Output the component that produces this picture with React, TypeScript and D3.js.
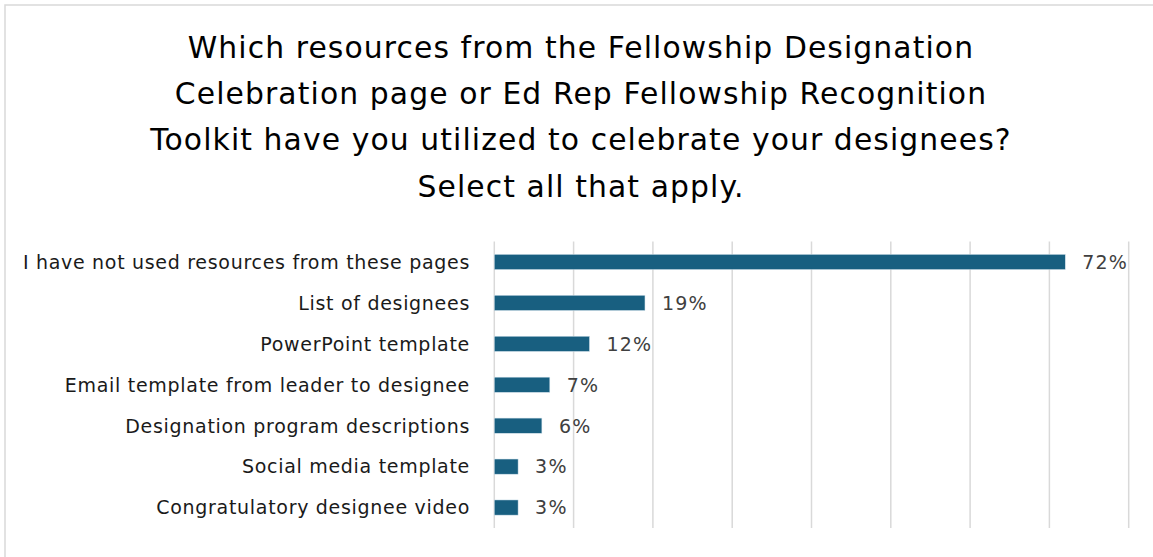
import React from "react";
import * as d3 from "d3";

const categories = [
  "I have not used resources from these pages",
  "List of designees",
  "PowerPoint template",
  "Email template from leader to designee",
  "Designation program descriptions",
  "Social media template",
  "Congratulatory designee video",
];
const values = [72, 19, 12, 7, 6, 3, 3];
const gridTicks = [0, 10, 20, 30, 40, 50, 60, 70, 80];
const titleLines = [
  "Which resources from the Fellowship Designation",
  "Celebration page or Ed Rep Fellowship Recognition",
  "Toolkit have you utilized to celebrate your designees?",
  "Select all that apply.",
];

const W = 1153;
const H = 557;
const FONT = "'DejaVu Sans', 'Noto Sans', sans-serif";

export default function App() {
  const x = d3.scaleLinear().domain([0, 80]).range([494.3, 1128.7]);
  const y = d3
    .scaleBand<string>()
    .domain(categories)
    .range([241.5, 528])
    .paddingInner(0.63)
    .paddingOuter(0.315);
  const bw = y.bandwidth();

  return (
    <div style={{ position: "absolute", left: 0, top: 0 }}>
      <svg width={W} height={H} style={{ display: "block" }}>
        <rect x={0} y={0} width={W} height={H} fill="#fff" />
        <rect x={5} y={5} width={W + 10} height={H + 10} fill="none" stroke="#d9d9d9" strokeWidth={1.5} />
        {titleLines.map((t, i) => (
          <text
            key={i}
            x={581}
            y={57.5 + i * 46.4}
            textAnchor="middle"
            fontFamily={FONT}
            fontSize={29.8}
            letterSpacing={1.1}
            fill="#000"
          >
            {t}
          </text>
        ))}
        {gridTicks.map((t) => (
          <line
            key={t}
            x1={x(t)}
            x2={x(t)}
            y1={241.5}
            y2={528}
            stroke="#d9d9d9"
            strokeWidth={1.5}
          />
        ))}
        {categories.map((c, i) => {
          const yy = y(c)!;
          const cy = yy + bw / 2;
          return (
            <g key={c}>
              <rect
                x={x(0)}
                y={yy}
                width={x(values[i]) - x(0)}
                height={bw}
                fill="#185f80"
                stroke="#cfe0ea"
                strokeWidth={0.5}
              />
              <text
                x={470}
                y={cy}
                dy="0.36em"
                textAnchor="end"
                fontFamily={FONT}
                fontSize={19}
                letterSpacing={0.7}
                fill="#1a1a1a"
              >
                {c}
              </text>
              <text
                x={x(values[i]) + 17}
                y={cy}
                dy="0.36em"
                textAnchor="start"
                fontFamily={FONT}
                fontSize={19}
                letterSpacing={1.2}
                fill="#404040"
              >
                {values[i]}%
              </text>
            </g>
          );
        })}
      </svg>
    </div>
  );
}
